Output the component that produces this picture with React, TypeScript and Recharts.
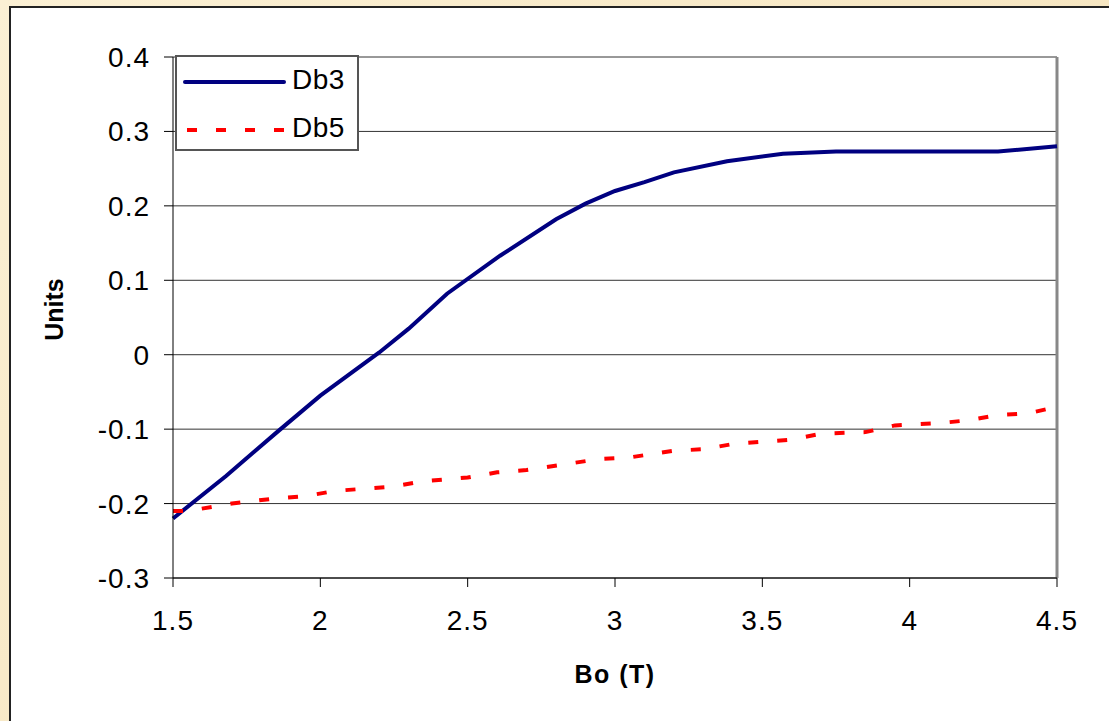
import { LineChart, Line, XAxis, YAxis, CartesianGrid, Legend, ReferenceLine } from 'recharts';

const FONT = '"Liberation Sans", Arial, sans-serif';

// Bo (T) vs Units
const db3X = [1.5, 1.68, 1.85, 2.0, 2.2, 2.3, 2.43, 2.61, 2.8, 2.9, 3.0, 3.1, 3.2, 3.38, 3.57, 3.75, 4.3, 4.5];
const db3Y = [-0.22, -0.163, -0.105, -0.055, 0.003, 0.035, 0.082, 0.133, 0.182, 0.203, 0.22, 0.232, 0.245, 0.26, 0.27, 0.273, 0.273, 0.28];

const db5X = [1.5, 1.55, 1.7, 1.85, 1.95, 2.05, 2.25, 2.35, 2.5, 2.6, 2.7, 2.85, 2.95, 3.05, 3.2, 3.3, 3.4, 3.6, 3.7, 3.85, 3.95, 4.1, 4.2, 4.3, 4.4, 4.5];
const db5Y = [-0.21, -0.21, -0.2, -0.193, -0.19, -0.183, -0.177, -0.17, -0.165, -0.158, -0.155, -0.146, -0.14, -0.138, -0.129, -0.127, -0.12, -0.114, -0.106, -0.104, -0.095, -0.092, -0.088, -0.081, -0.079, -0.07];

const xTicks = [1.5, 2, 2.5, 3, 3.5, 4, 4.5];
const yTicks = [-0.3, -0.2, -0.1, 0, 0.1, 0.2, 0.3, 0.4];

const db3 = db3X.map((x, i) => ({ x, y: db3Y[i] }));
const db5 = db5X.map((x, i) => ({ x, y: db5Y[i] }));

function LegendBox() {
    return (
        <div style={{ width: 180, height: 92, border: '2px solid #555', background: '#fff' }}>
            <svg width={180} height={92}>
                <line x1={8} y1={25} x2={107} y2={25} stroke="#000080" strokeWidth={4} strokeLinecap="round" />
                <text x={115} y={32} fontSize={28} letterSpacing={0.5} fontFamily={FONT} fill="#000">Db3</text>
                <line x1={10} y1={73} x2={107} y2={73} stroke="#ff0000" strokeWidth={4} strokeDasharray="10 19" />
                <text x={115} y={80} fontSize={28} letterSpacing={0.5} fontFamily={FONT} fill="#000">Db5</text>
            </svg>
        </div>
    );
}

export default function App() {
    return (
        <div style={{ position: 'absolute', left: 0, top: 0, width: 1109, height: 721, background: 'linear-gradient(135deg, #fbf0d4, #f3e0b6)', overflow: 'hidden' }}>
            <div style={{ position: 'absolute', left: 9, top: 6, width: 1120, height: 730, background: '#fff', borderLeft: '2px solid #222', borderTop: '2px solid #222' }} />
            <div style={{ position: 'absolute', left: 0, top: 0 }}>
                <LineChart width={1109} height={721} margin={{ top: 57, right: 52, bottom: 103, left: 93 }}>
                    <CartesianGrid vertical={false} stroke="#333" strokeWidth={1} />
                    <XAxis
                        type="number"
                        dataKey="x"
                        domain={[1.5, 4.5]}
                        ticks={xTicks}
                        height={40}
                        stroke="#000"
                        tickSize={9}
                        tickMargin={23}
                        tick={{ fill: '#000', fontSize: 28, letterSpacing: 1, fontFamily: FONT }}
                        label={{
                            content: (p: any) => (
                                <text x={p.viewBox.x + p.viewBox.width / 2} y={683} textAnchor="middle" fontSize={25} letterSpacing={1.5} fontWeight="bold" fontFamily={FONT} fill="#000">
                                    Bo (T)
                                </text>
                            ),
                        }}
                    />
                    <YAxis
                        type="number"
                        domain={[-0.3, 0.4]}
                        ticks={yTicks}
                        width={80}
                        stroke="#000"
                        tickSize={9}
                        tickMargin={14}
                        tick={{ fill: '#000', fontSize: 28, letterSpacing: 1, fontFamily: FONT }}
                        tickFormatter={(v: number) => String(Math.round(v * 10) / 10)}
                        label={{
                            content: (p: any) => {
                                const cy = p.viewBox.y + p.viewBox.height / 2 - 8;
                                return (
                                    <text x={63} y={cy} transform={`rotate(-90 63 ${cy})`} textAnchor="middle" fontSize={25} fontWeight="bold" fontFamily={FONT} fill="#000">
                                        Units
                                    </text>
                                );
                            },
                        }}
                    />
                    <ReferenceLine x={4.5} stroke="#888" strokeWidth={3} />
                    <Legend
                        layout="horizontal"
                        verticalAlign="middle"
                        align="center"
                        content={() => <LegendBox />}
                        wrapperStyle={{ position: 'absolute', left: 175, top: 55, width: 184, height: 96 }}
                    />
                    <Line data={db3} dataKey="y" name="Db3" type="linear" stroke="#000080" strokeWidth={4} dot={false} isAnimationActive={false} />
                    <Line data={db5} dataKey="y" name="Db5" type="linear" stroke="#ff0000" strokeWidth={4} strokeDasharray="10 19" dot={false} isAnimationActive={false} />
                </LineChart>
            </div>
        </div>
    );
}
